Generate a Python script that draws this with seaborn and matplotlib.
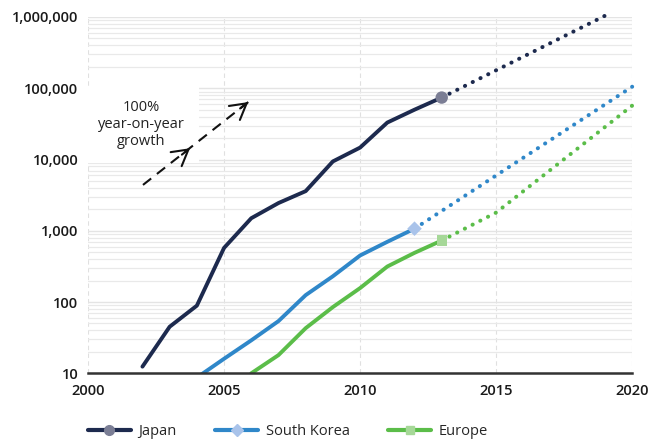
import numpy as np
import pandas as pd
import matplotlib
matplotlib.use("Agg")
import matplotlib.pyplot as plt
import seaborn as sns
from matplotlib.lines import Line2D
from matplotlib.ticker import LogLocator, FixedLocator, FuncFormatter

# Installed fuel-cell units (cumulative), log scale
japan_years = [2002, 2003, 2004, 2005, 2006, 2007, 2008, 2009, 2010, 2011, 2012, 2013]
japan_values = [12.4, 45, 89, 575, 1500, 2450, 3600, 9400, 14700, 33000, 50000, 74000]
japan_proj_years = [2013, 2019]
japan_proj_values = [74000, 1040000]

korea_years = [2004, 2005, 2006, 2007, 2008, 2009, 2010, 2011, 2012]
korea_values = [8.7, 16, 29, 54, 125, 230, 450, 700, 1070]
korea_proj_years = [2012, 2020]
korea_proj_values = [1070, 105000]

europe_years = [2006, 2007, 2008, 2009, 2010, 2011, 2012, 2013]
europe_values = [10, 18, 43, 85, 157, 315, 490, 730]
europe_proj_years = [2013, 2015, 2020]
europe_proj_values = [730, 1800, 57000]

series_names = ["Japan", "South Korea", "Europe"]
line_colors = ["#1d2a4e", "#2f87c9", "#5bbd49"]
marker_colors = ["#7b7e95", "#a9c3ea", "#a6d898"]
marker_styles = ["o", "D", "s"]

x_ticks = [2000, 2005, 2010, 2015, 2020]
y_ticks = [10, 100, 1000, 10000, 100000, 1000000]

growth_text = "100%\nyear-on-year\ngrowth"

sns.set_theme(style="white")
plt.rcParams["font.family"] = ["Open Sans", "DejaVu Sans"]

fig = plt.figure(figsize=(6.54, 4.40), dpi=100)
ax = fig.add_axes([0.1346, 0.1516, 0.832, 0.8098])

actual = pd.concat([
    pd.DataFrame({"year": japan_years, "value": japan_values, "region": "Japan"}),
    pd.DataFrame({"year": korea_years, "value": korea_values, "region": "South Korea"}),
    pd.DataFrame({"year": europe_years, "value": europe_values, "region": "Europe"}),
])
projected = pd.concat([
    pd.DataFrame({"year": japan_proj_years, "value": japan_proj_values, "region": "Japan"}),
    pd.DataFrame({"year": korea_proj_years, "value": korea_proj_values, "region": "South Korea"}),
    pd.DataFrame({"year": europe_proj_years, "value": europe_proj_values, "region": "Europe"}),
])
palette = dict(zip(series_names, line_colors))

ax.set_yscale("log")
ax.set_xlim(2000, 2020)
ax.set_ylim(10, 1000000)

# grid: light horizontal lines at every log step, dashed verticals every 5 years
ax.yaxis.set_major_locator(FixedLocator(y_ticks))
ax.yaxis.set_minor_locator(LogLocator(base=10, subs=np.arange(2, 10)))
ax.grid(which="major", axis="y", color="#e4e4e4", lw=1.0, zorder=0)
ax.grid(which="minor", axis="y", color="#e9e9e9", lw=0.9, zorder=0)
ax.xaxis.set_major_locator(FixedLocator(x_ticks))
ax.grid(which="major", axis="x", color="#e0e0e0", lw=0.8, ls=(0, (4, 3)), zorder=0)

# projections (dotted)
for name in series_names:
    sub = projected[projected.region == name]
    sns.lineplot(data=sub, x="year", y="value", ax=ax, color=palette[name],
                 lw=2.9, linestyle=(0, (0.05, 2.1)), legend=False, zorder=3,
                 clip_on=False)
for ln in ax.lines:
    ln.set_dash_capstyle("round")

# recorded values (solid)
sns.lineplot(data=actual, x="year", y="value", hue="region", palette=palette,
             hue_order=series_names, ax=ax, lw=2.8, legend=False, zorder=4)
for ln in ax.lines:
    ln.set_solid_capstyle("round")

# end-point markers
for name, yrs, vals, mc, ms in zip(series_names,
                                   [japan_years, korea_years, europe_years],
                                   [japan_values, korea_values, europe_values],
                                   marker_colors, marker_styles):
    ax.scatter([yrs[-1]], [vals[-1]], marker=ms, s=80 if ms == "o" else 55,
               color=mc, edgecolor="none", zorder=5)

# growth reference arrow
arrow_start = (2002.02, 4400)
arrow_mid = (2003.75, 14400)
arrow_end = (2005.89, 64000)
ax.plot([arrow_start[0], arrow_end[0]], [arrow_start[1], arrow_end[1]],
        color="#111111", lw=1.5, ls=(0, (5, 3.5)), zorder=6)
for tip in (arrow_mid, arrow_end):
    ax.annotate("", xy=tip, xytext=(tip[0] - 0.3, tip[1] / 10 ** (0.30 * 0.3)),
                arrowprops=dict(arrowstyle="->,head_length=0.7,head_width=0.4",
                                mutation_scale=16, shrinkA=0, shrinkB=0,
                                color="#111111", lw=1.5), zorder=6)

ax.text(2001.95, 31000, growth_text, ha="center", va="center", fontsize=10.5,
        color="#222222", linespacing=1.15, zorder=5,
        bbox=dict(boxstyle="square,pad=1.0", fc="white", ec="none"))

# axes styling
for side in ("left", "right", "top"):
    ax.spines[side].set_visible(False)
ax.spines["bottom"].set_color("#333333")
ax.spines["bottom"].set_linewidth(1.8)
ax.spines["bottom"].set_zorder(7)
ax.tick_params(axis="both", which="both", length=0)
ax.tick_params(axis="y", pad=7)
ax.tick_params(axis="x", pad=8)
ax.yaxis.set_major_formatter(FuncFormatter(lambda v, p: f"{int(round(v)):,}"))
ax.yaxis.set_minor_formatter(FuncFormatter(lambda v, p: ""))
for lab in ax.get_xticklabels() + ax.get_yticklabels():
    lab.set_fontsize(10.5)
    lab.set_fontweight("semibold")
    lab.set_color("#1a1a1a")
ax.set_xlabel("")
ax.set_ylabel("")

handles = [Line2D([0], [0], color=lc, lw=3, marker=ms, markersize=7 if ms == "o" else 6,
                  markerfacecolor=mc, markeredgecolor=mc)
           for lc, mc, ms in zip(line_colors, marker_colors, marker_styles)]
fig.legend(handles, series_names, loc="center", bbox_to_anchor=(0.44, 0.02),
           ncol=3, frameon=False, fontsize=10.5, handlelength=3.0,
           columnspacing=2.6, handletextpad=0.5)

fig.savefig("out.png", dpi=100)
